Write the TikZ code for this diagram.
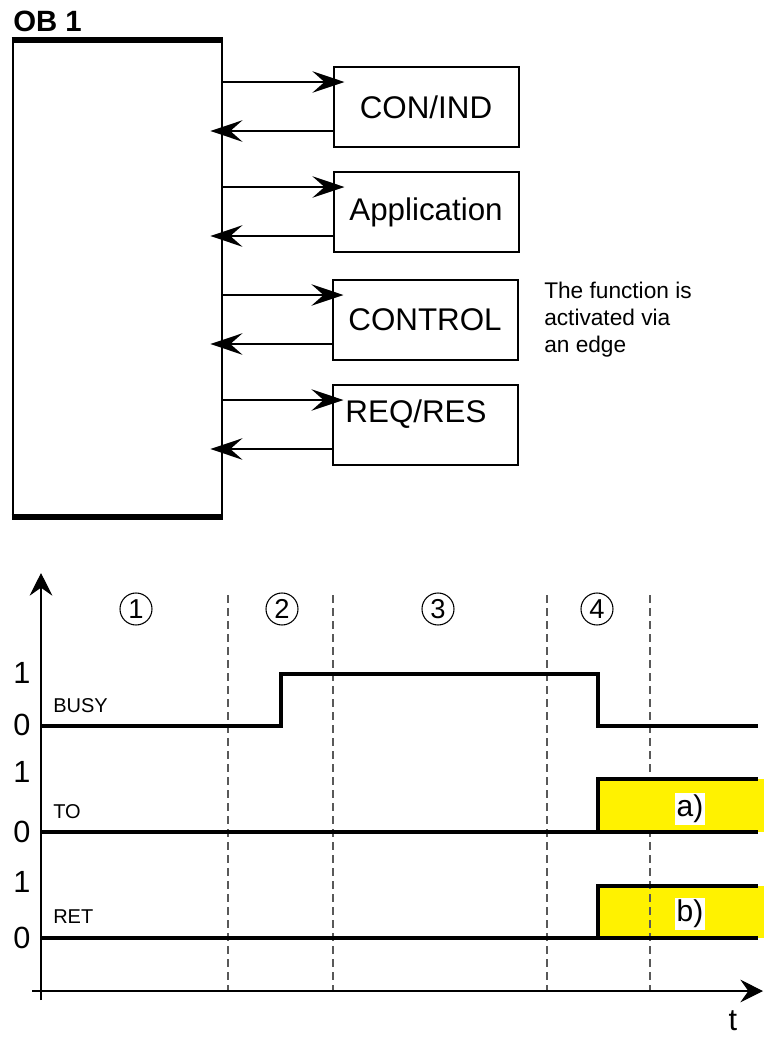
\documentclass[tikz,border=0pt]{standalone}
\usepackage{fontspec}
\setmainfont{Liberation Sans}
\usetikzlibrary{arrows.meta, positioning, calc}

\begin{document}
\begin{tikzpicture}[
		x=0.75pt, y=-0.75pt,
		% Styles
		boxText/.style={font=\fontsize{23.5}{28}\selectfont},
		obBox/.style={draw, line width=2pt, minimum width=156.75pt, minimum height=356.25pt},
		obEdge/.style={line width=4.5pt},
		funcBox/.style={draw, line width=1.5pt, minimum width=138.75pt, minimum height=60pt, boxText},
		callArrow/.style={-{Stealth[length=24pt, width=16pt, inset=9pt]}, line width=2.2pt},
		noteText/.style={align=left, inner sep=0pt, font=\fontsize{17}{20.25}\selectfont},
		axisArrow/.style={-{Stealth[length=17pt, width=17pt, inset=6pt]}, line width=0.8pt},
		phaseLine/.style={dash pattern=on 6pt off 3.75pt, line width=0.8pt, draw=black!65},
		phaseMark/.style={draw, circle, line width=0.8pt, minimum size=24pt, inner sep=0pt, font=\fontsize{20.5}{22}\selectfont},
		signalLine/.style={line width=2.5pt},
		levelFill/.style={fill=yellow},
		levelLabel/.style={inner sep=0pt, font=\fontsize{23}{26}\selectfont},
		sigName/.style={anchor=base west, inner sep=0pt, font=\fontsize{15}{18}\selectfont},
		resultTag/.style={fill=white, inner sep=1.5pt, font=\fontsize{22.5}{26}\selectfont}
		]
		
		\useasboundingbox (0,0) rectangle (764,1043);
		
		% =========================================================
		% 1. OB 1 AND THE FUNCTIONS
		% =========================================================
		\node[anchor=base west, inner sep=0pt, font=\fontsize{22}{26}\selectfont\bfseries] (OBTitle) at (13,31) {OB 1};
		\node[obBox] (OB) at (117.5,278.5) {};
		\draw[obEdge] (OB.north west) -- (OB.north east);
		\draw[obEdge] (OB.south west) -- (OB.south east);
		
		\node[funcBox] (ConInd) at (426,107) {CON/IND};
		\node[funcBox] (App) at (426,212) {Application};
		\node[funcBox] (Ctrl) at (425,320) {CONTROL};
		\node[funcBox] (ReqRes) at (425,425) {};
		\node[boxText, inner sep=0pt] (ReqResLabel) at ($(ReqRes.center)+(-9,-11)$) {REQ/RES};
		
		% calls and returns
		\foreach \b in {ConInd, App, Ctrl, ReqRes} {
			\draw[callArrow] ($(OB.east |- \b.north)+(0,16)$) -- ($(\b.north west)+(12,16)$);
			\draw[callArrow] ($(\b.south west)+(0,-17)$) -- ($(OB.east |- \b.south)+(-13,-17)$);
		}
		
		\node[noteText, anchor=north west] (EdgeNote) at (544,282) {The function is\\activated via\\an edge};
		
		% =========================================================
		% 2. TIMING DIAGRAM
		% =========================================================
		\coordinate (YBase) at (41,1000);
		\coordinate (YTop) at (41,573);
		\coordinate (XStart) at (32,991);
		\coordinate (XEnd) at (763,991);
		\draw[axisArrow] (YBase) -- (YTop);
		\draw[axisArrow] (XStart) -- (XEnd);
		\node[levelLabel] (TimeLabel) at (733,1021) {t};
		
		\fill[levelFill] (598,886) rectangle (764,938);
		\foreach \x in {228, 333, 547, 650}
			\draw[phaseLine] (\x,595) -- (\x,990);
		\fill[levelFill] (598,779) rectangle (764,832);
		
		\node[phaseMark] (Phase1) at (136,609) {1};
		\node[phaseMark] (Phase2) at (282,609) {2};
		\node[phaseMark] (Phase3) at (438,609) {3};
		\node[phaseMark] (Phase4) at (597,609) {4};
		
		% BUSY
		\draw[signalLine] (41,726) -- (281,726) -- (281,674) -- (598,674) -- (598,726) -- (758,726);
		\node[levelLabel] (BusyHigh) at (22,673) {1};
		\node[levelLabel] (BusyLow) at (22,725) {0};
		\node[sigName] (BusyName) at (53,712) {BUSY};
		
		% TO
		\draw[signalLine] (41,832) -- (758,832);
		\draw[signalLine] (598,832) -- (598,779) -- (758,779);
		\node[levelLabel] (ToHigh) at (22,772) {1};
		\node[levelLabel] (ToLow) at (22,832) {0};
		\node[sigName] (ToName) at (53,818) {TO};
		\node[resultTag] (TagA) at (690,809) {a)};
		
		% RET
		\draw[signalLine] (41,938) -- (758,938);
		\draw[signalLine] (598,938) -- (598,886) -- (758,886);
		\node[levelLabel] (RetHigh) at (22,882) {1};
		\node[levelLabel] (RetLow) at (22,938) {0};
		\node[sigName] (RetName) at (53,923) {RET};
		\node[resultTag] (TagB) at (690,914) {b)};
		
	\end{tikzpicture}
\end{document}
